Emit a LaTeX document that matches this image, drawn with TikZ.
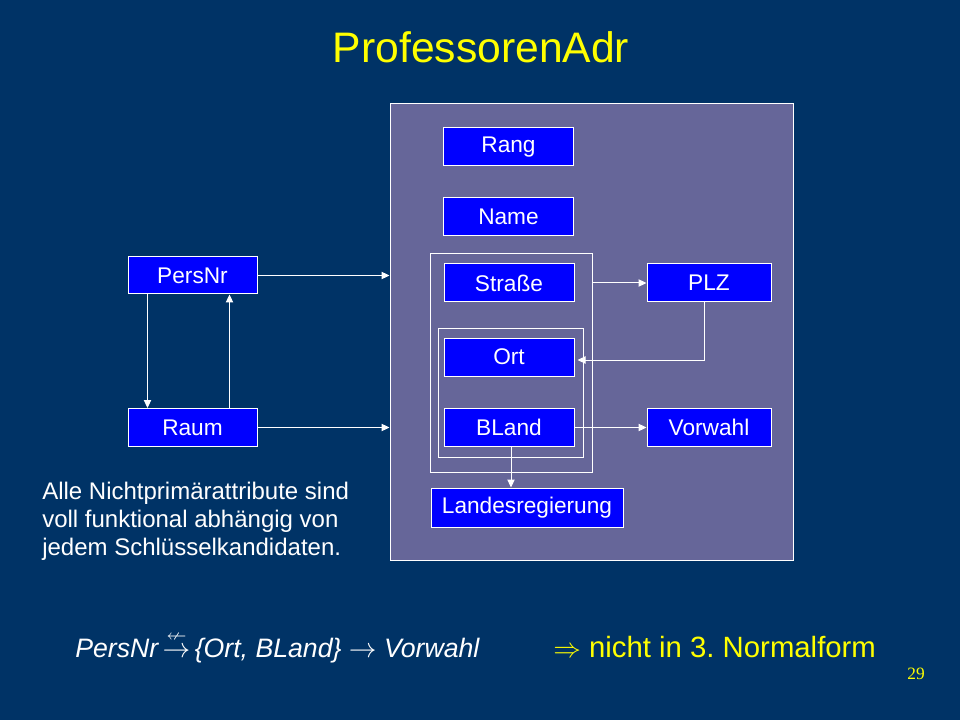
\documentclass[tikz,border=0pt]{standalone}
\usepackage{amsmath,amssymb}
\usepackage{fontspec}
\setmainfont{Liberation Sans}
\newfontfamily\pnserif{Liberation Serif}
\usetikzlibrary{arrows.meta,calc,positioning}
\definecolor{bgnavy}{RGB}{0,51,102}
\definecolor{panelc}{RGB}{102,102,153}
\definecolor{boxblue}{RGB}{0,0,255}
\definecolor{slideyellow}{RGB}{255,255,0}
\frenchspacing
\newcommand{\smallnla}{\hbox{\fontsize{15}{15}\selectfont$\nleftarrow$}}
\begin{document}
\begin{tikzpicture}[x=0.75pt,y=-0.75pt,
  attr/.style={rectangle,fill=boxblue,draw=white,line width=0.75pt,text=white,
    font=\fontsize{17}{20}\selectfont,inner sep=0pt,minimum width=97.5pt,minimum height=28.5pt},
  grp/.style={rectangle,draw=white,line width=0.75pt,inner sep=0pt},
  arr/.style={draw=white,line width=0.75pt,-{Triangle[width=5.5pt,length=6pt]}}]
\fill[bgnavy] (0,0) rectangle (960,720);
\useasboundingbox (0,0) rectangle (960,720);
% title
\node[anchor=base,text=slideyellow,font=\fontsize{32}{38}\selectfont,inner sep=0pt] (title) at (481,63) {ProfessorenAdr};
% panel and groups
\node[rectangle,fill=panelc,draw=white,line width=0.75pt,minimum width=302.25pt,minimum height=342pt,inner sep=0pt] (panel) at (591.5,332) {};
\node[grp,minimum width=121.5pt,minimum height=163.5pt] (grpA) at (511,363) {};
\node[grp,minimum width=108.75pt,minimum height=96.75pt] (grpB) at (510.5,392.5) {};
% attribute boxes
\node[attr] (Rang) at (508.5,147) {Rang};
\node[attr] (Name) at (508.5,217) {Name};
\node[attr] (Strasse) at (509,283) {Straße};
\node[attr] (Ort) at (509,357) {Ort};
\node[attr] (BLand) at (509,427.5) {BLand};
\node[attr,minimum width=93pt] (PLZ) at (709,283) {PLZ};
\node[attr,minimum width=93pt] (Vorwahl) at (709,427.5) {Vorwahl};
\node[attr,minimum width=144pt,minimum height=29.25pt] (Land) at (527,507.5) {Landesregierung};
\node[attr,minimum width=96.75pt,minimum height=27.75pt] (PersNr) at (192.5,275.5) {PersNr};
\node[attr,minimum width=96.75pt] (Raum) at (192.5,427.5) {Raum};
% connectors
\draw[arr] (PersNr.east) -- (PersNr.east -| panel.west);
\draw[arr] (Raum.east) -- (Raum.east -| panel.west);
\coordinate (d1) at ($(PersNr.south west)+(20,0)$);
\draw[arr] (d1) -- (d1 |- Raum.north);
\coordinate (u1) at ($(PersNr.south east)+(-28,0)$);
\draw[arr] (u1 |- Raum.north) -- (u1);
\draw[arr] (grpA.east |- PLZ.west) -- (PLZ.west);
\coordinate (p1) at ($(PLZ.south)+(-5,0)$);
\coordinate (o1) at ($(Ort.east)+(3,3)$);
\draw[arr] (p1) |- (o1);
\draw[arr] (BLand.east) -- (Vorwahl.west);
\coordinate (b1) at ($(BLand.south)+(2,0)$);
\draw[arr] (b1) -- (b1 |- Land.north);
% texts
\node[anchor=north west,align=left,text=white,font=\fontsize{18}{21}\selectfont,inner sep=0pt] (note) at (42,482) {Alle Nichtprimärattribute sind\\voll funktional abhängig von\\jedem Schlüsselkandidaten.};
\node[anchor=base west,inner sep=0pt,text=white,font=\fontsize{20}{24}\selectfont\itshape] (formula) at (75,657) {PersNr\,${\overset{\smallnla}{\rightarrow}}$\,\{Ort, BLand\} $\rightarrow$ Vorwahl};
\node[anchor=base west,inner sep=0pt,text=slideyellow,font=\fontsize{22}{26}\selectfont] (concl) at (553,657) {$\Rightarrow$ nicht in 3. Normalform};
\node[anchor=base,inner sep=0pt,text=slideyellow,font=\pnserif\fontsize{13}{15}\selectfont] (page) at (916,679) {29};
\end{tikzpicture}
\end{document}
